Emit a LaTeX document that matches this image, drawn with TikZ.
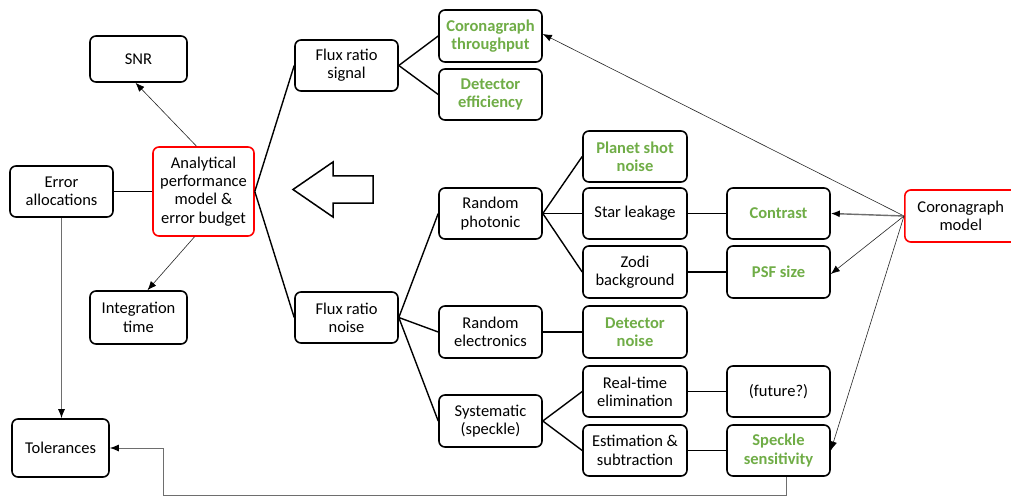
\documentclass[tikz,border=0pt]{standalone}
\usepackage{fontspec}
\setmainfont{Carlito}
\usetikzlibrary{arrows.meta}
\definecolor{grn}{RGB}{112,173,71}
\definecolor{redb}{RGB}{255,0,0}
\definecolor{lgray}{RGB}{110,110,110}
\tikzset{
  box/.style={draw=black, line width=1.6pt, rounded corners=6pt, align=center, inner sep=0pt,
    minimum width=103pt, minimum height=51pt, font=\fontsize{16.5}{18.3}\selectfont, fill=white},
  redbox/.style={box, draw=redb},
  gtext/.style={text=grn, font=\fontsize{16.5}{18.3}\selectfont\bfseries},
  link/.style={draw=black, line width=1.4pt},
  thinarrow/.style={draw=black!85, line width=0.6pt, -{Latex[length=9pt,width=7pt,color=black]}},
  grayarrow/.style={draw=lgray, line width=1pt, -{Latex[length=9pt,width=7pt,color=black]}},
}
\begin{document}
\begin{tikzpicture}[x=1pt,y=-1pt]
\useasboundingbox (0,0) rectangle (1011,497);
\fill[white] (0,0) rectangle (1011,497);

% left column
\node[box, minimum width=97pt, minimum height=46pt] (snr) at (138.5,59) {SNR};
\node[redbox, minimum width=101pt, minimum height=89pt] (apm) at (203.5,191.5) {Analytical\\performance\\model \&\\error budget};
\node[box, minimum width=103pt, minimum height=51pt] (ea) at (61.5,191.5) {Error\\allocations};
\node[box, minimum width=97pt, minimum height=53pt] (it) at (138.5,317.5) {Integration\\time};
\node[box, minimum width=97pt, minimum height=58pt] (tol) at (60.5,448) {Tolerances};

% second column
\node[box] (frs) at (346.5,65.5) {Flux ratio\\signal};
\node[box] (frn) at (346.5,317.5) {Flux ratio\\noise};

% third column
\node[box, minimum height=52pt, gtext] (ct) at (490.5,36) {Coronagraph\\throughput};
\node[box, gtext] (de) at (490.5,94.5) {Detector\\efficiency};
\node[box] (rp) at (490.5,213.5) {Random\\photonic};
\node[box, minimum height=52pt] (re) at (490.5,332) {Random\\electronics};
\node[box, minimum height=52pt] (sys) at (490.5,421) {Systematic\\(speckle)};

% fourth column
\node[box, minimum width=104pt, gtext] (psn) at (635,156.5) {Planet shot\\noise};
\node[box, minimum width=104pt] (sl) at (635,213.5) {Star leakage};
\node[box, minimum width=104pt, minimum height=52pt] (zb) at (635,272) {Zodi\\background};
\node[box, minimum width=104pt, minimum height=52pt, gtext] (dn) at (635,332) {Detector\\noise};
\node[box, minimum width=104pt] (rte) at (635,391.5) {Real-time\\elimination};
\node[box, minimum width=104pt] (es) at (635,450.5) {Estimation \&\\subtraction};

% fifth column
\node[box, gtext] (con) at (778.5,213.5) {Contrast};
\node[box, minimum height=52pt, gtext] (psf) at (778.5,272) {PSF size};
\node[box] (fut) at (778.5,391.5) {(future?)};
\node[box, gtext] (ss) at (778.5,450.5) {Speckle\\sensitivity};

% coronagraph model (clipped at right edge)
\node[redbox, minimum width=112pt, minimum height=52pt, anchor=west, text width=104pt] (cm) at (904,216) {Coronagraph\\model};

% big hollow arrow
\draw[line width=1.5pt, fill=white] (293,189.5) -- (333,162) -- (333,176) -- (373,176) -- (373,203) -- (333,203) -- (333,217) -- cycle;

% tree links
\draw[link] (apm.east) -- (frs.west);
\draw[link] (apm.east) -- (frn.west);
\draw[link] (ea.east) -- (apm.west);
\draw[link] (frs.east) -- (ct.west);
\draw[link] (frs.east) -- (de.west);
\draw[link] (frn.east) -- (rp.west);
\draw[link] (frn.east) -- (re.west);
\draw[link] (frn.east) -- (sys.west);
\draw[link] (rp.east) -- (psn.west);
\draw[link] (rp.east) -- (sl.west);
\draw[link] (rp.east) -- (zb.west);
\draw[link] (re.east) -- (dn.west);
\draw[link] (sys.east) -- (rte.west);
\draw[link] (sys.east) -- (es.west);
\draw[link] (sl.east) -- (con.west);
\draw[link] (zb.east) -- (psf.west);
\draw[link] (rte.east) -- (fut.west);
\draw[link] (es.east) -- (ss.west);

% arrows
\draw[thinarrow] ([xshift=-7pt]apm.north) -- ([xshift=-3pt]snr.south);
\draw[thinarrow] ([xshift=-9pt]apm.south) -- ([xshift=9pt]it.north);
\draw[grayarrow] (ea.south) -- (ea.south |- tol.north);
\coordinate (lp) at (163,495.5);
\draw[grayarrow] ([xshift=8pt]ss.south) |- (lp) |- (tol.east);
\draw[thinarrow] (cm.west) -- ([yshift=2pt]ct.east);
\draw[grayarrow, line width=1.4pt] (cm.west) -- (con.east);
\draw[thinarrow] (cm.west) -- ([yshift=-2pt]psf.east);
\draw[thinarrow] (cm.west) -- (ss.east);
\end{tikzpicture}
\end{document}
